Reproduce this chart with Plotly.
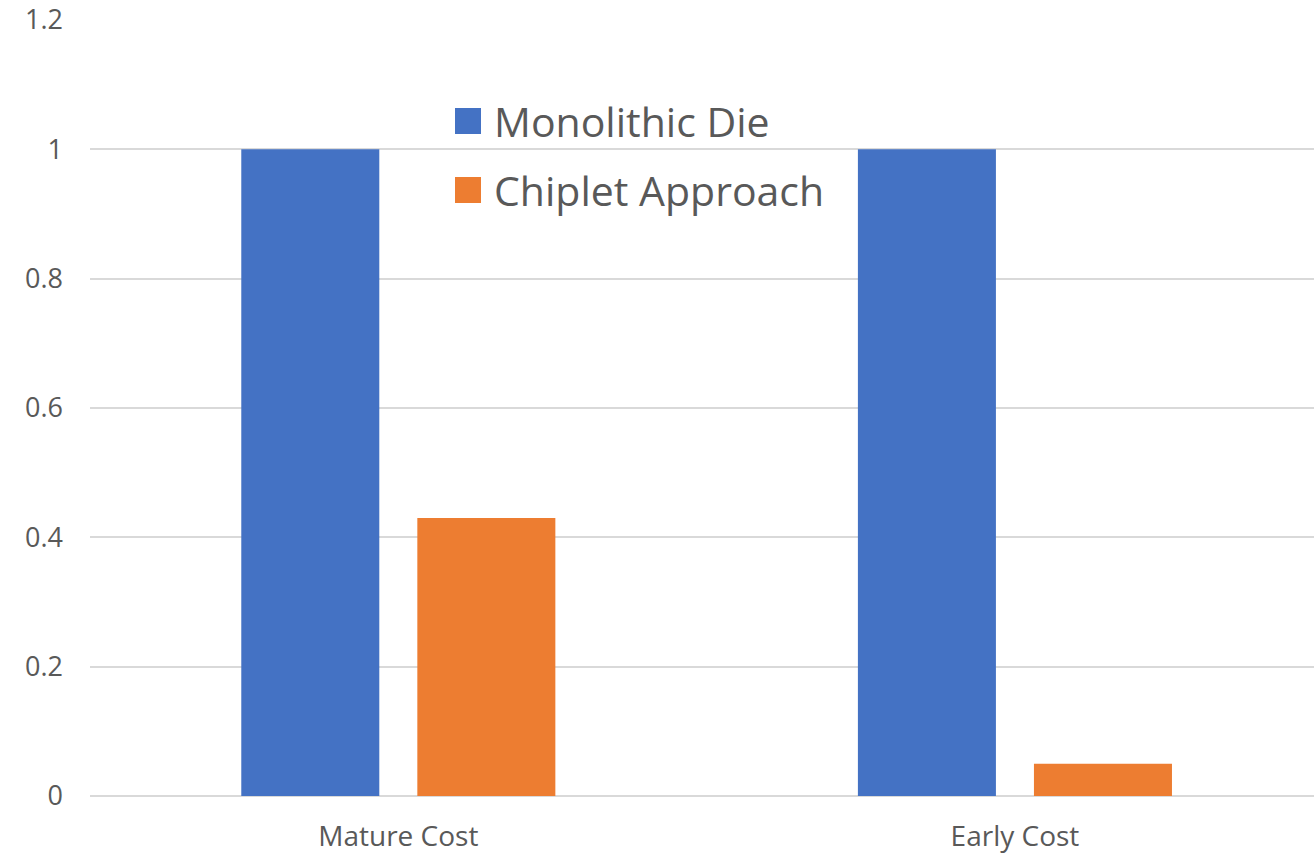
import plotly.graph_objects as go

categories = ["Mature Cost", "Early Cost"]
series_names = ["Monolithic Die", "Chiplet Approach"]
monolithic_die = [1.0, 1.0]
chiplet_approach = [0.43, 0.05]
y_ticks = [0, 0.2, 0.4, 0.6, 0.8, 1.0, 1.2]
y_tick_labels = ["0", "0.2", "0.4", "0.6", "0.8", "1", "1.2"]

colors = ["#4472C4", "#ED7D31"]
text_color = "#595959"
grid_color = "#D9D9D9"
font_family = "Open Sans"

fig = go.Figure()
for name, values, color in zip(series_names, [monolithic_die, chiplet_approach], colors):
    fig.add_trace(go.Bar(
        x=categories, y=values, name=name,
        marker=dict(color=color, line=dict(width=0)),
        showlegend=False,
    ))

# Legend drawn as a colored square plus label for each series
legend_rows_y = [0.8698, 0.7809]
for name, color, ly in zip(series_names, colors, legend_rows_y):
    fig.add_annotation(
        xref="paper", yref="paper", x=0.3088, y=ly,
        xanchor="center", yanchor="middle",
        text=" ", showarrow=False, width=26, height=26,
        bgcolor=color, borderpad=0, borderwidth=0,
    )
    fig.add_annotation(
        xref="paper", yref="paper", x=0.3284, y=ly,
        xanchor="left", yanchor="middle",
        text=name, showarrow=False,
        font=dict(family=font_family, size=41, color=text_color),
    )

fig.update_layout(
    width=1314, height=855,
    margin=dict(l=90, r=0, t=20, b=59),
    paper_bgcolor="white", plot_bgcolor="white",
    barmode="group", bargap=0.429, bargroupgap=0.216,
    font=dict(family=font_family, color=text_color),
)
fig.update_xaxes(
    type="category", range=[-0.5, 1.485],
    showgrid=False, showline=False, zeroline=False,
    tickfont=dict(family=font_family, size=28, color=text_color),
    ticklabelstandoff=21,
)
fig.update_yaxes(
    range=[0, 1.2], tickvals=y_ticks, ticktext=y_tick_labels,
    showgrid=True, gridcolor=grid_color, gridwidth=2,
    zeroline=True, zerolinecolor=grid_color, zerolinewidth=2,
    showline=False,
    tickfont=dict(family=font_family, size=27, color=text_color),
    ticklabelstandoff=26,
)

fig.write_html("out.html")
